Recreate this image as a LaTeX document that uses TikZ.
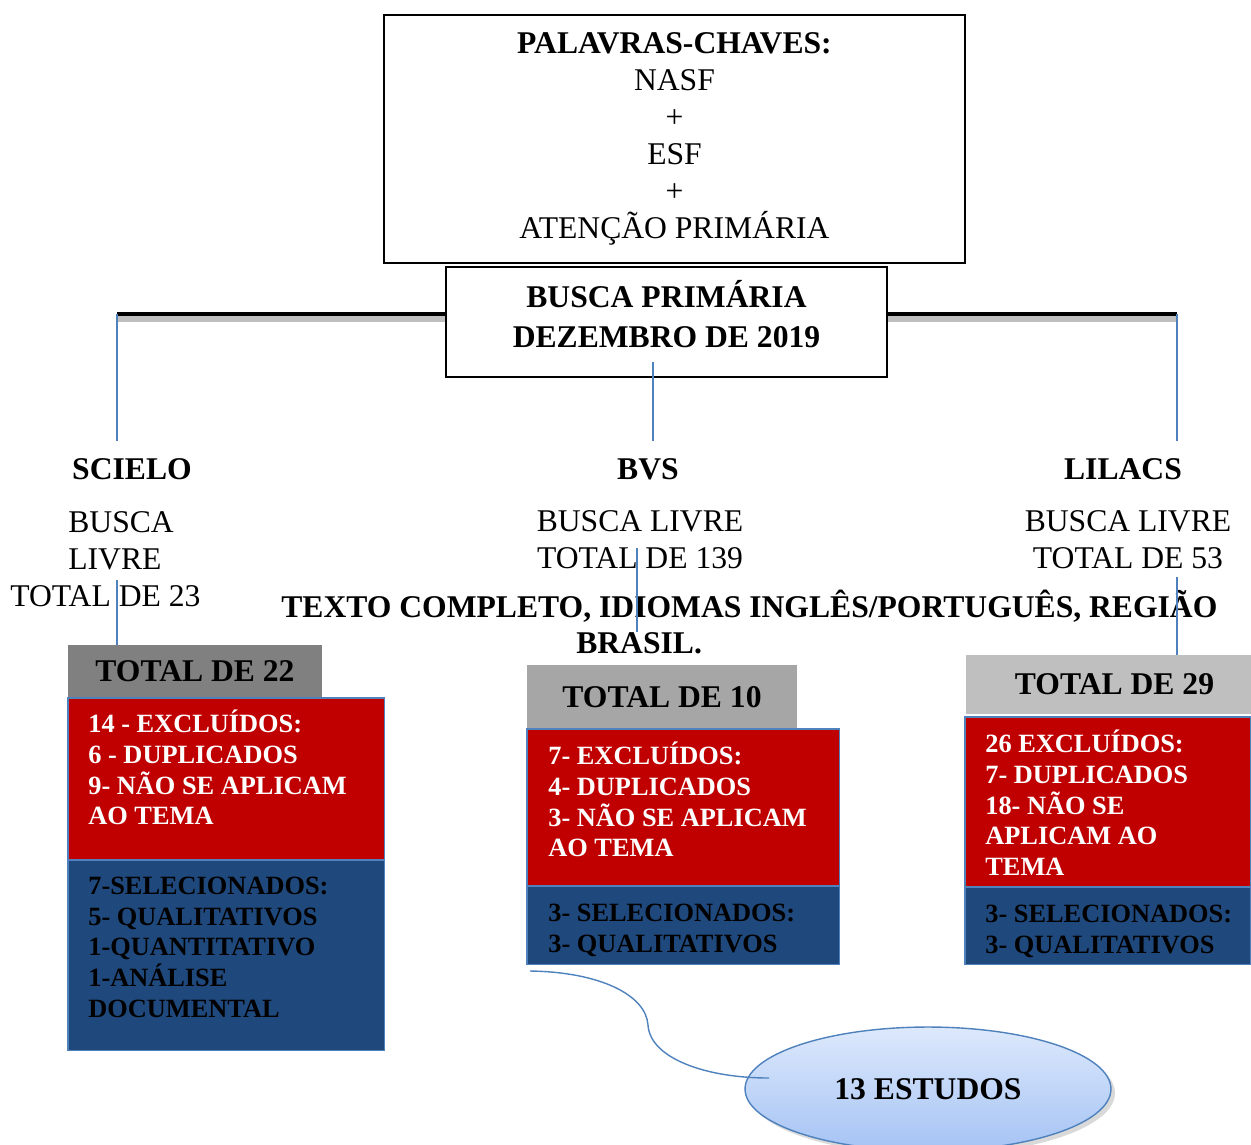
\documentclass[tikz,border=0pt]{standalone}
\usepackage{fontspec}
\setmainfont{Liberation Serif}
\usetikzlibrary{calc,positioning,shapes.geometric,shadows}
\definecolor{exred}{HTML}{C00000}
\definecolor{selblue}{HTML}{1F497D}
\definecolor{edgeblue}{HTML}{4F81BD}
\definecolor{grayA}{HTML}{808080}
\definecolor{grayB}{HTML}{A6A6A6}
\definecolor{grayC}{HTML}{BFBFBF}
\definecolor{ovaltop}{HTML}{DDE9FC}
\definecolor{ovalbot}{HTML}{A5C3F4}
\tikzset{%
	keybox/.style  = {draw, rectangle, line width=0.8pt, fill=white, align=center, font=\fontsize{18}{21}\selectfont},
	basebox/.style = {keybox, font=\fontsize{18}{22.6}\selectfont\bfseries, drop shadow={shadow xshift=0.6pt, shadow yshift=-0.8pt, opacity=0.6}},
	dbname/.style  = {font=\fontsize{18}{21}\selectfont\bfseries}, % base name
	dbinfo/.style  = {align=center, inner sep=0pt, font=\fontsize{18}{21}\selectfont},
	total/.style   = {rectangle, inner sep=0pt, outer sep=0pt, font=\fontsize{18}{21}\selectfont\bfseries},
	exbox/.style   = {draw=edgeblue, line width=0.6pt, fill=exred, rectangle, inner sep=0pt, outer sep=0pt}, % excluded
	selbox/.style  = {exbox, fill=selblue}, % selected
	boxtext/.style = {align=left, inner sep=0pt, font=\fontsize{15}{17.4}\selectfont\bfseries},
	link/.style    = {draw=edgeblue, line width=0.8pt},
	bar/.style     = {line width=2.8pt},
}

\begin{document}
\begin{tikzpicture}[x=0.02cm,y=-0.02cm,node distance=0.4cm]
	\useasboundingbox (0,0) rectangle (1251,1144);

	\node [keybox, minimum width=11.62cm, minimum height=4.96cm] (kw) at (674.5,139) {\textbf{PALAVRAS-CHAVES:}\\NASF\\+\\ESF\\+\\ATENÇÃO PRIMÁRIA};

	% barra
	\coordinate (barL) at (117,314);
	\coordinate (barR) at (1177,314);
	\draw [bar, black!25, line width=3.4pt] ([yshift=-2.8pt]barL) -- ([yshift=-2.8pt]barR);
	\draw [bar] (barL) -- (barR);
	\node [basebox, minimum width=8.82cm, minimum height=2.2cm, text depth=9pt] (busca) at (666.5,322) {BUSCA PRIMÁRIA\\DEZEMBRO DE 2019};

	% bases
	\node [dbname] (scielo) at (132,469) {SCIELO};
	\node [dbname] (bvs) at (648,469) {BVS};
	\node [dbname] (lilacs) at (1123,469) {LILACS};
	\node [dbinfo, align=left, anchor=west] (scielo-n) at (10,559) {\hspace*{1.16cm}BUSCA\\\hspace*{1.16cm}LIVRE\\TOTAL DE 23};
	\node [dbinfo] (bvs-n) at (640,540) {BUSCA LIVRE\\TOTAL DE 139};
	\node [dbinfo] (lilacs-n) at (1128,540) {BUSCA LIVRE\\TOTAL DE 53};
	\node [dbinfo, align=left, anchor=west, font=\fontsize{18}{21}\selectfont\bfseries] (filtro) at (281,622) {TEXTO COMPLETO, IDIOMAS INGLÊS/PORTUGUÊS, REGIÃO\\\hspace*{5.9cm}BRASIL.};

	% totais
	\node [total, fill=grayA, minimum width=5.08cm, minimum height=1.06cm] (tot22) at (195,671.5) {TOTAL DE 22};
	\node [total, fill=grayB, minimum width=5.4cm, minimum height=1.28cm] (tot10) at (662,697) {TOTAL DE 10};
	\node [total, fill=grayC, minimum width=5.7cm, minimum height=1.18cm] (tot29) at (1108.5,684.5) {\hspace*{0.24cm}TOTAL DE 29};

	\node [exbox, minimum width=6.34cm, minimum height=3.24cm, anchor=north west] (ex22) at (68,698) {};
	\node [selbox, minimum width=6.34cm, minimum height=3.82cm, below=0pt of ex22] (sel22) {};
	\node [exbox, minimum width=6.26cm, minimum height=3.14cm, anchor=north west] (ex10) at (527,729) {};
	\node [selbox, minimum width=6.26cm, minimum height=1.58cm, below=0pt of ex10] (sel10) {};
	\node [exbox, minimum width=5.72cm, minimum height=3.4cm, anchor=north west] (ex29) at (965,717) {};
	\node [selbox, minimum width=5.72cm, minimum height=1.56cm, below=0pt of ex29] (sel29) {};

	\node [boxtext, white, below right=0.24cm and 0.4cm of ex22.north west] (ex22-t) {14 - EXCLUÍDOS:\\6 - DUPLICADOS\\9- NÃO SE APLICAM\\AO TEMA};
	\node [boxtext, below right=0.34cm and 0.4cm of sel22.north west] (sel22-t) {7-SELECIONADOS:\\5- QUALITATIVOS\\1-QUANTITATIVO\\1-ANÁLISE\\DOCUMENTAL};
	\node [boxtext, white, below right=0.26cm and 0.42cm of ex10.north west] (ex10-t) {7- EXCLUÍDOS:\\4- DUPLICADOS\\3- NÃO SE APLICAM\\AO TEMA};
	\node [boxtext, below right=0.36cm and 0.42cm of sel10.north west] (sel10-t) {3- SELECIONADOS:\\3- QUALITATIVOS};
	\node [boxtext, white, below right=0.26cm and 0.4cm of ex29.north west] (ex29-t) {26 EXCLUÍDOS:\\7- DUPLICADOS\\18- NÃO SE\\APLICAM AO\\TEMA};
	\node [boxtext, below right=0.36cm and 0.4cm of sel29.north west] (sel29-t) {3- SELECIONADOS:\\3- QUALITATIVOS};

	\node [ellipse, draw=edgeblue, line width=0.8pt, top color=ovaltop, bottom color=ovalbot, minimum width=7.32cm, minimum height=2.48cm, font=\fontsize{18}{21}\selectfont\bfseries, drop shadow={opacity=0.3}] (estudos) at (928,1089) {13 ESTUDOS};

	% ligacoes
	\coordinate (bvsTop) at (653,362);
	\coordinate (sciDrop) at (117,580);
	\coordinate (bvsDrop) at (637,548);
	\coordinate (lilDrop) at (1177,577);
	\coordinate (curveStart) at (530,971);
	\draw [link] (barL) -- ++(0,127);
	\draw [link] (bvsTop) -- ++(0,79);
	\draw [link] (barR) -- ++(0,127);
	\draw [link] (sciDrop) -- (sciDrop |- tot22.north);
	\draw [link] (bvsDrop) -- ++(0,84);
	\draw [link] (lilDrop) -- (lilDrop |- tot29.north);
	\draw [link] (curveStart) .. controls (600,972) and (646,995) .. (648,1025) .. controls (650,1058) and (705,1078) .. ($(estudos.center)+(-159,-11)$);
\end{tikzpicture}
\end{document}
